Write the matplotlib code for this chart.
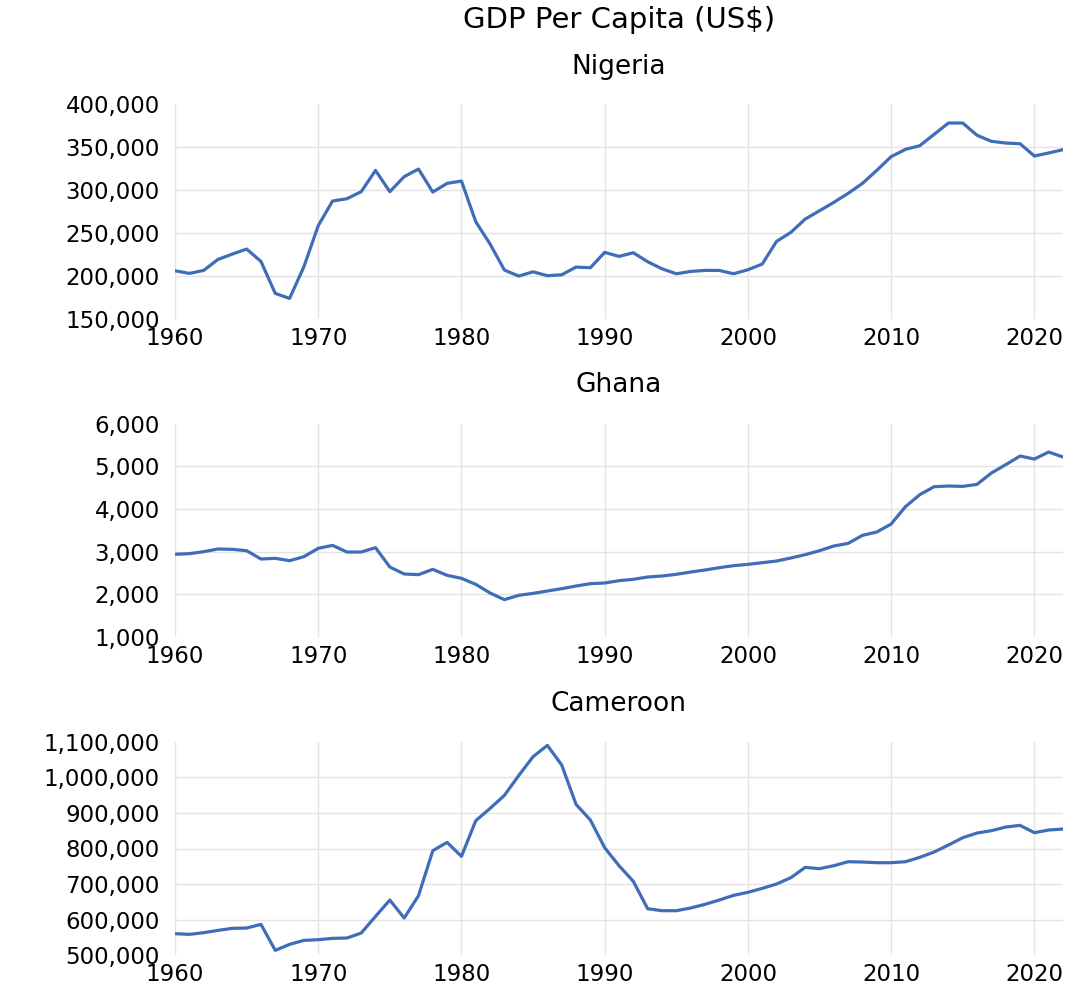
import matplotlib
matplotlib.use("Agg")
import matplotlib.pyplot as plt
import numpy as np

years = list(range(1960, 2023))

nigeria = [206200, 203100, 206600, 219400, 225600, 231500, 217100, 179800, 174000, 210900,
           258700, 287400, 290100, 298300, 323100, 298300, 315800, 324700, 297900, 308000,
           310700, 263300, 237300, 207000, 200000, 205000, 200400, 201500, 210500, 209700,
           227600, 222900, 227200, 216700, 208500, 202700, 205400, 206600, 206600, 202700,
           207400, 214000, 240400, 250900, 266400, 276100, 285900, 296400, 308000, 323200,
           339100, 347600, 351900, 365100, 378300, 378300, 364000, 357000, 355000, 354200,
           339900, 343400, 347300]

ghana = [2940, 2953, 3000, 3063, 3055, 3023, 2828, 2844, 2789, 2883,
         3078, 3148, 2992, 2992, 3094, 2640, 2477, 2461, 2586, 2445,
         2375, 2234, 2031, 1875, 1977, 2023, 2078, 2133, 2195, 2250,
         2266, 2320, 2352, 2406, 2430, 2469, 2523, 2570, 2625, 2672,
         2703, 2742, 2781, 2852, 2930, 3023, 3133, 3195, 3383, 3461,
         3648, 4055, 4336, 4523, 4539, 4531, 4578, 4844, 5039, 5242,
         5172, 5336, 5219]

cameroon = [560700, 558800, 563500, 570000, 575700, 576600, 586900, 513900, 530700, 541900,
            543800, 547600, 548500, 562500, 609400, 655200, 604700, 667400, 793800, 817200,
            777900, 878100, 912700, 949300, 1005000, 1057900, 1089700, 1034500, 924000, 880000,
            802200, 751700, 707700, 630900, 625300, 625300, 632800, 643100, 655200, 668400,
            676800, 688000, 700200, 718000, 747000, 743300, 751700, 762900, 762000, 760100,
            760100, 762900, 775100, 790100, 809700, 830300, 843400, 850000, 860300, 865000,
            844400, 851900, 854700]

countries = ["Nigeria", "Ghana", "Cameroon"]
series = [nigeria, ghana, cameroon]
yticks = [
    [150000, 200000, 250000, 300000, 350000, 400000],
    [1000, 2000, 3000, 4000, 5000, 6000],
    [500000, 600000, 700000, 800000, 900000, 1000000, 1100000],
]
xticks = [1960, 1970, 1980, 1990, 2000, 2010, 2020]
main_title = "GDP Per Capita (US$)"

W, H = 1079, 984
fig = plt.figure(figsize=(W / 100, H / 100), dpi=100)
plt.rcParams['font.family'] = ['DejaVu Sans']

# pixel layout: (left, top, right, bottom)
rects = [(175, 104.4, 1063, 319), (175, 423.7, 1063, 637), (175, 741.7, 1063, 955.3)]
sub_y = [67, 385, 704]
line_color = '#3F6DB7'
grid_color = '#E3E3E3'

for name, vals, yt, (l, t, r, b), sy in zip(countries, series, yticks, rects, sub_y):
    ax = fig.add_axes([l / W, 1 - b / H, (r - l) / W, (b - t) / H])
    ax.plot(years, vals, color=line_color, lw=2.3, solid_joinstyle='round')
    ax.set_xlim(1960, 2022)
    ax.set_ylim(yt[0], yt[-1])
    ax.set_yticks(yt)
    ax.set_yticklabels([f"{v:,}" for v in yt])
    ax.set_xticks(xticks)
    ax.set_xticklabels([str(x) for x in xticks])
    for s in ax.spines.values():
        s.set_visible(False)
    ax.tick_params(axis='both', length=0, labelsize=16.5, colors='black')
    ax.tick_params(axis='y', pad=11)
    ax.tick_params(axis='x', pad=5.5)
    ax.grid(True, color=grid_color, lw=1.0)
    ax.set_axisbelow(True)
    gl = ax.get_ygridlines()
    gl[0].set_visible(False)
    gl[-1].set_visible(False)
    fig.text(619 / W, 1 - sy / H, name, ha='center', va='center', fontsize=19, color='black')

fig.text(619 / W, 1 - 20 / H, main_title, ha='center', va='center', fontsize=21, color='black')

fig.savefig("out.png", dpi=100)
